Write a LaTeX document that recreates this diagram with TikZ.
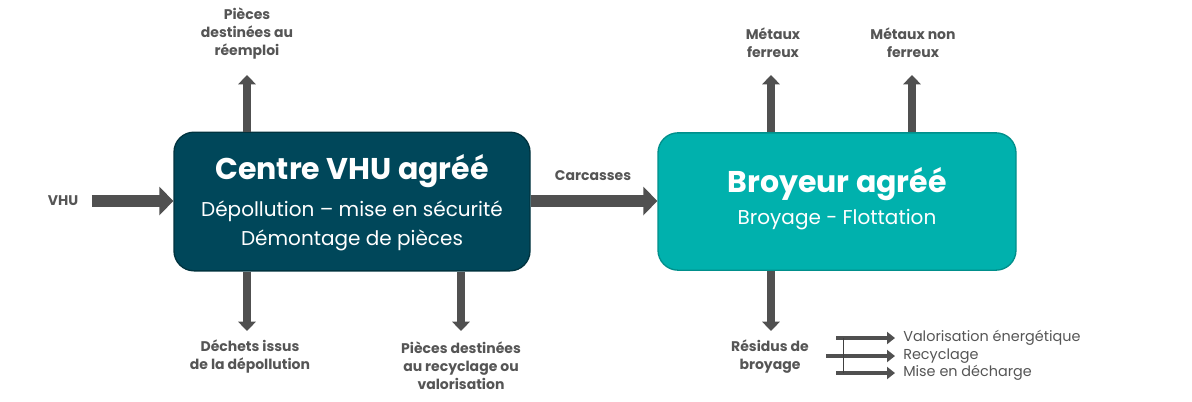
\documentclass[tikz,border=0pt]{standalone}
\usepackage{fontspec}
\setmainfont{Poppins}
\usetikzlibrary{arrows.meta}
\definecolor{boxA}{HTML}{00475A}
\definecolor{boxAedge}{HTML}{00333F}
\definecolor{boxB}{HTML}{00B1AD}
\definecolor{boxBedge}{HTML}{008F8B}
\definecolor{txtgray}{HTML}{555555}
\definecolor{arrgray}{HTML}{505050}
\tikzset{
  mainbox/.style={rounded corners=15pt, minimum width=267pt, minimum height=104pt, inner sep=0pt, line width=1pt, align=center, text=white},
  lbl/.style={text=txtgray, font=\bfseries\fontsize{10.5}{13.5}\selectfont, align=center, inner sep=0pt},
  outlbl/.style={text=txtgray, font=\fontsize{10.8}{13}\selectfont, anchor=west, inner sep=0pt},
  bigarrow/.style={draw=arrgray, line width=9pt, -{Triangle[length=10.5pt, width=21pt]}},
  vertarrow/.style={draw=arrgray, line width=6pt, -{Triangle[length=7pt, width=13pt]}},
  smallarrow/.style={draw=arrgray, line width=3.5pt, -{Triangle[length=6pt, width=9pt]}},
}
\begin{document}
\begin{tikzpicture}[x=0.75pt,y=-0.75pt]
\useasboundingbox (0,0) rectangle (1192,401);
% boxes
\node[mainbox, fill=boxA, draw=boxAedge] (c1) at (352,201.5) {};
\node[text=white, font=\bfseries\fontsize{22.5}{26}\selectfont] (t1) at (352,171) {Centre VHU agréé};
\node[text=white, font=\fontsize{15}{22}\selectfont, align=center] (s1) at (352,226) {Dépollution – mise en sécurité\\Démontage de pièces};
\node[mainbox, fill=boxB, draw=boxBedge, minimum width=268.5pt, minimum height=103pt] (c2) at (837,201.5) {};
\node[text=white, font=\bfseries\fontsize{22.5}{26}\selectfont] (t2) at (837,184) {Broyeur agréé};
\node[text=white, font=\fontsize{15}{22}\selectfont] (s2) at (837,220) {Broyage - Flottation};
% labels
\node[lbl] (vhu) at (63,201) {VHU};
\node[lbl] (carc) at (593,176) {Carcasses};
\node[lbl] (reemp) at (247,34) {Pièces\\destinées au\\réemploi};
\node[lbl] (dech) at (250,357) {Déchets issus\\de la dépollution};
\node[lbl] (recyc) at (461,366) {Pièces destinées\\au recyclage ou\\valorisation};
\node[lbl] (mf) at (773,43) {Métaux\\ferreux};
\node[lbl] (mnf) at (913,43) {Métaux non\\ferreux};
\node[lbl] (resid) at (770,357) {Résidus de\\broyage};
\node[outlbl] (o1) at (903,338) {Valorisation énergétique};
\node[outlbl] (o2) at (903,356) {Recyclage};
\node[outlbl] (o3) at (903,373) {Mise en décharge};
% big horizontal arrows
\draw[bigarrow] ([xshift=10]vhu.east) -- (c1.west |- vhu.east);
\draw[bigarrow] (c1.east |- 0,201) -- (c2.west |- 0,201);
% vertical arrows
\coordinate (u1) at (247,75);
\coordinate (d1) at (247,331);
\coordinate (d2) at (461,331);
\coordinate (u2) at (771,75);
\coordinate (u3) at (912,75);
\coordinate (d3) at (771,331);
\draw[vertarrow] (c1.north -| u1) -- (u1);
\draw[vertarrow] (c1.south -| d1) -- (d1);
\draw[vertarrow] (c1.south -| d2) -- (d2);
\draw[vertarrow] (c2.north -| u2) -- (u2);
\draw[vertarrow] (c2.north -| u3) -- (u3);
\draw[vertarrow] (c2.south -| d3) -- (d3);
% small arrows
\coordinate (a1) at (836,338);
\coordinate (a2) at (826,356);
\coordinate (a3) at (836,373);
\draw[smallarrow] (a1) -- ([xshift=-6]o1.west |- a1);
\draw[smallarrow] (a2) -- ([xshift=-6]o2.west |- a2);
\draw[smallarrow] (a3) -- ([xshift=-6]o3.west |- a3);
\draw[arrgray!80!black, line width=0.6pt] (843,338) -- (843,373);
\end{tikzpicture}
\end{document}
